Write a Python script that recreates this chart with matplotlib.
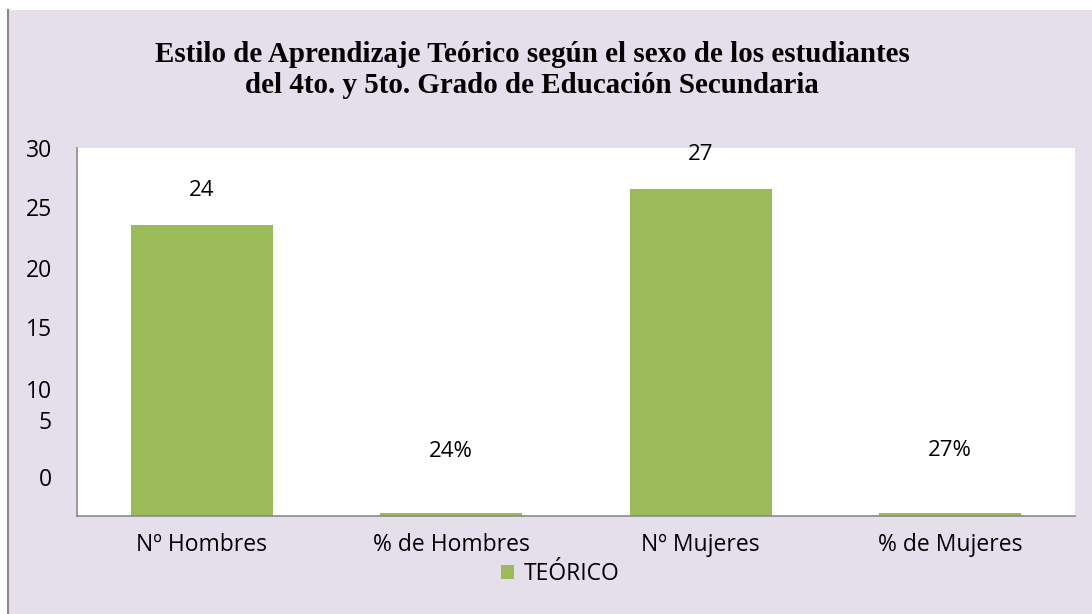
# Estilo de Aprendizaje Teórico - bar chart by sex
import matplotlib.pyplot as plt
from matplotlib.patches import Rectangle

categorias = ["Nº Hombres", "% de Hombres", "Nº Mujeres", "% de Mujeres"]
valores = [24, 0.24, 27, 0.27]
etiquetas = ["24", "24%", "27", "27%"]
serie = "TEÓRICO"

color_barra = '#9BBB59'
fondo = '#E5DFEC'
fuente = 'Open Sans'

fig = plt.figure(figsize=(10.92, 6.14), dpi=100)
fig.patch.set_facecolor(fondo)
# white strip on top and left, grey left border of the chart box
fig.patches.append(Rectangle((0, 1 - 10 / 614), 1, 10 / 614, transform=fig.transFigure,
                             facecolor='white', edgecolor='none', zorder=-10))
fig.patches.append(Rectangle((0, 0), 8 / 1092, 1, transform=fig.transFigure,
                             facecolor='white', edgecolor='none', zorder=-10))
fig.lines.append(plt.Line2D([8 / 1092, 8 / 1092], [0, 1 - 10 / 614],
                            transform=fig.transFigure, color='#8a8a8a', lw=1.5))

ax = fig.add_axes([77 / 1092, 1 - 516 / 614, 998 / 1092, 368 / 614], zorder=2)
ax.set_facecolor('white')

x = range(len(categorias))
barras = ax.bar(x, valores, width=0.57, color=color_barra, label=serie, zorder=2)
ax.set_xlim(-0.5, len(categorias) - 0.5)
ax.set_ylim(0, 30)

# data labels (Excel placed them at odd offsets)
offsets = [35, 62, 35, 62]
for b, txt, off in zip(barras, etiquetas, offsets):
    ax.annotate(txt, (b.get_x() + b.get_width() / 2, b.get_height()),
                xytext=(0, off), textcoords='offset pixels',
                ha='center', va='center', fontsize=16, family=fuente)

# y tick labels as they appear (shifted in the original)
ytick_vals = [30, 25, 20, 15, 10, 5, 0]
ytick_pos = [30.4, 25.5, 20.5, 15.6, 10.5, 7.9, 3.2]
ax.set_yticks(ytick_pos)
ax.set_yticklabels([str(v) for v in ytick_vals], fontsize=16.5, family=fuente)
ax.set_xticks(list(x))
ax.set_xticklabels(categorias, fontsize=16.5, family=fuente)
ax.tick_params(axis='both', length=0)
ax.tick_params(axis='y', pad=18)
ax.tick_params(axis='x', pad=12)

for s in ['top', 'right']:
    ax.spines[s].set_visible(False)
for s in ['left', 'bottom']:
    ax.spines[s].set_color('#8a8a8a')
    ax.spines[s].set_linewidth(1.2)

titulo = ["Estilo de Aprendizaje Teórico según el sexo de los estudiantes",
          "del 4to. y 5to. Grado de Educación Secundaria"]
for linea, yb in zip(titulo, [62, 93]):
    fig.text(532 / 1092, 1 - yb / 614, linea, ha='center', va='baseline',
             fontsize=20.9, fontweight='bold', family='Liberation Serif')

leg = fig.legend(handles=[barras], labels=[serie], loc='center',
                 bbox_to_anchor=(560 / 1092, 1 - 574 / 614), frameon=False,
                 prop={'family': fuente, 'size': 16.5},
                 handlelength=0.6, handleheight=0.6, handletextpad=0.4)

plt.savefig('out.png', dpi=100, facecolor=fig.get_facecolor())
